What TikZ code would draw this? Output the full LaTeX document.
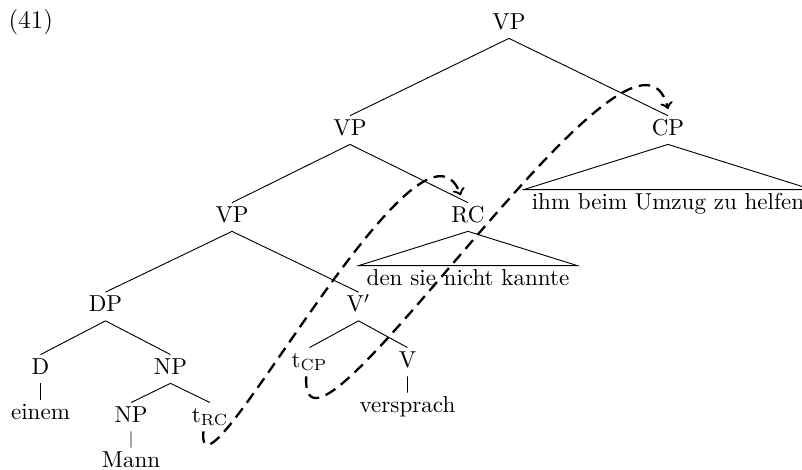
\documentclass[tikz,border=0pt]{standalone}
\usepackage{tikz}

\begin{document}
\begin{tikzpicture}[cat/.style={inner ysep=1.5pt, text height=1.6ex, text depth=.5ex}, edge from parent path={(\tikzparentnode.south) -- (\tikzchildnode.north)}, roof/.style={edge from parent path={(\tikzparentnode.south) -- (\tikzchildnode.north west) -- (\tikzchildnode.north east) -- cycle}}, move/.style={line width=1pt, dash pattern=on 5pt off 3pt, ->}]
	\useasboundingbox (0,0) rectangle (12.218,-7.160);
	\node[cat, font=\fontsize{11}{13}\selectfont] at (0.47,-0.35) {(41)};
	\node[cat] (vp1) at (7.754,-0.366) {VP}
	child[level distance=1.615cm, sibling distance=4.844cm] { node[cat] (vp2) {VP}
		child[level distance=1.325cm, sibling distance=3.595cm] { node[cat] (vp3) {VP}
			child[level distance=1.363cm, sibling distance=3.854cm] { node[cat] (dp) {DP}
				child[level distance=0.952cm, sibling distance=1.98cm] { node[cat] (d) {D}
					child[level distance=0.686cm] { node[cat] (einem) {einem} } }
				child[level distance=0.952cm, sibling distance=1.98cm] { node[cat] (np1) {NP}
					child[level distance=0.731cm, sibling distance=1.203cm] { node[cat] (np2) {NP}
						child[level distance=0.686cm] { node[cat] (mann) {Mann} } }
					child[level distance=0.731cm, sibling distance=1.203cm] { node[cat] (trc) {t$_{\mathrm{RC}}$} } } }
			child[level distance=1.363cm, sibling distance=3.854cm] { node[cat] (vbar) {V$'$}
				child[level distance=0.845cm, sibling distance=1.493cm] { node[cat] (tcp) {t$_{\mathrm{CP}}$} }
				child[level distance=0.845cm, sibling distance=1.493cm] { node[cat] (v) {V}
					child[level distance=0.686cm] { node[cat] (versprach) {versprach} } } } }
		child[level distance=1.325cm, sibling distance=3.595cm] { node[cat] (rc) {RC}
			child[roof, level distance=0.96cm] { node[cat] {den sie nicht kannte} } } }
	child[level distance=1.615cm, sibling distance=4.844cm] { node[cat] (cp) {CP}
		child[roof, level distance=1.127cm] { node[cat] {ihm beim Umzug zu helfen} } };
	\draw[move] ([xshift=-0.1cm]trc.south) .. controls +(-0.12,-1.45) and +(-0.62,1.69) .. ([shift={(-0.11,0.11)}]rc.north);
	\draw[move] ([xshift=-0.05cm]tcp.south) .. controls +(-0.11,-2.05) and +(-0.5,2.1) .. ([yshift=0.1cm]cp.north);
\end{tikzpicture}
\end{document}
